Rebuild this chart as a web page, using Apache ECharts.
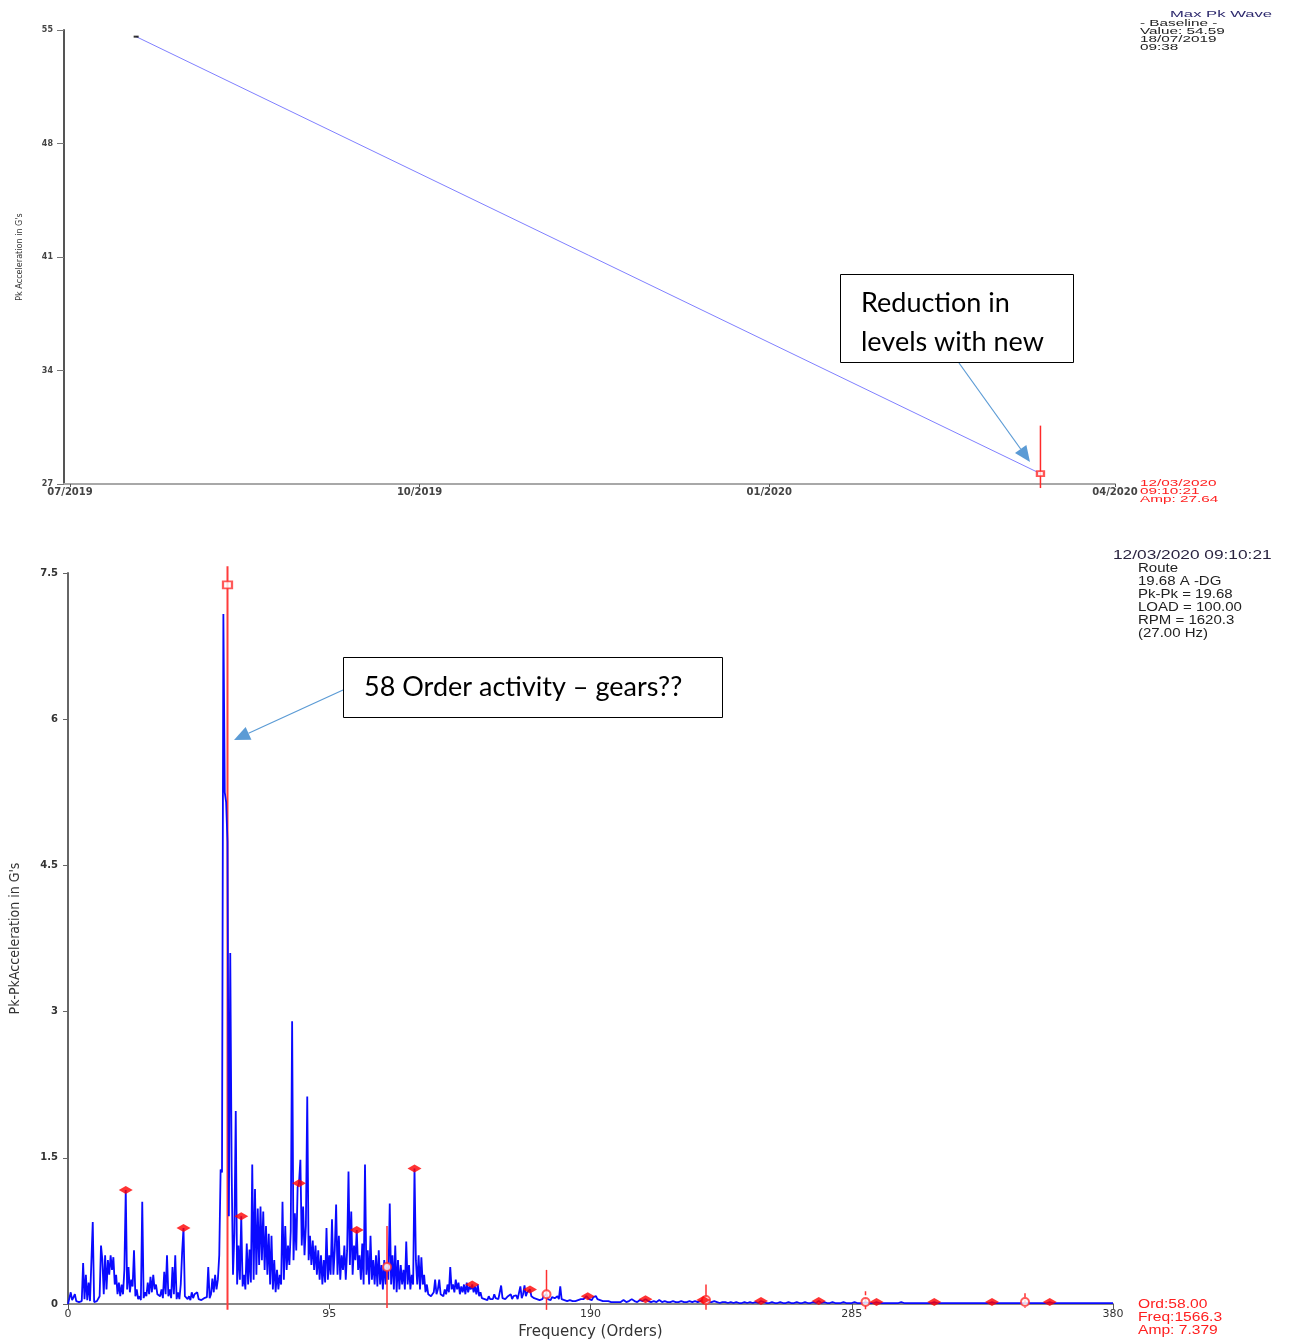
<!DOCTYPE html>
<html>
<head>
<meta charset="utf-8">
<script src="https://cdn.jsdelivr.net/npm/echarts@6/dist/echarts.min.js"></script>
<style>
html,body{margin:0;padding:0;background:#fff;}
#c{width:1290px;height:1340px;}
</style>
</head>
<body>
<div id="c"></div>
<script>
// ---------- Top chart: trend (Max Pk Wave) ----------
const trendDates = [new Date(2019, 6, 18, 9, 38).getTime(), new Date(2020, 2, 12, 9, 10, 21).getTime()];
const trendValues = [54.59, 27.64];
const trendTickDates = [new Date(2019, 6, 1).getTime(), new Date(2019, 9, 1).getTime(), new Date(2020, 0, 1).getTime(), new Date(2020, 3, 1).getTime()];
const trendYTicks = [27, 34, 41, 48, 55];
const trendCursor = [30.6, 26.75]; // top / bottom of cursor at last reading

// ---------- Bottom chart: spectrum ----------
// amplitudes every 0.5 order from 0 to 199.5
const ampsLow = [
0,0.02,0.12,0.04,0.03,0.1,0.03,0.05,0.02,0.04,0.03,0.42,0.05,0.3,0.04,0.22,0.03,0.05,0.84,0.02,
0.01,0.03,0.05,0.08,0.6,0.45,0.1,0.5,0.15,0.45,0.3,0.5,0.35,0.48,0.2,0.3,0.1,0.22,0.08,0.2,
0.1,0.35,1.17,0.15,0.38,0.12,0.25,0.18,0.55,0.08,0.15,0.05,0.08,0.04,1.05,0.06,0.12,0.08,0.22,0.1,
0.28,0.12,0.3,0.15,0.2,0.1,0.12,0.08,0.15,0.06,0.33,0.1,0.5,0.08,0.15,0.06,0.38,0.1,0.5,0.05,
0.12,0.05,0.2,0.53,0.78,0.08,0.1,0.05,0.08,0.04,0.12,0.06,0.1,0.08,0.12,0.05,0.06,0.04,0.05,0.06,
0.05,0.07,0.38,0.06,0.1,0.26,0.12,0.3,0.15,0.25,0.5,1.38,1.35,7.08,5.25,5.15,4.74,0.9,3.6,1.4,
0.3,0.72,1.98,0.2,0.6,0.25,0.9,0.18,0.3,0.15,0.62,0.2,0.56,0.22,1.43,0.25,1.18,0.3,0.98,0.4,
1.0,0.45,0.95,0.35,0.8,0.3,0.72,0.2,0.7,0.15,0.45,0.12,0.35,0.15,0.3,0.2,1.05,0.25,0.8,0.35,
0.6,0.4,0.75,2.9,0.45,0.93,0.55,1.2,1.24,1.48,0.6,1.0,0.5,0.8,2.13,0.45,0.7,0.4,0.65,0.35,
0.6,0.3,0.55,0.25,0.5,0.2,0.45,0.22,0.78,0.25,0.5,0.3,0.87,0.3,0.55,1.02,0.3,0.7,0.25,0.5,
0.35,0.6,0.25,0.55,1.36,0.4,0.95,0.3,0.6,0.45,0.76,0.35,0.5,0.25,0.62,0.2,1.43,0.3,0.55,0.2,
0.7,0.25,0.45,0.2,0.5,0.18,0.55,0.2,0.4,0.15,0.45,0.2,0.38,0.25,1.03,0.2,0.5,0.15,0.6,0.12,
0.45,0.15,0.4,0.2,0.35,0.15,0.64,0.2,0.4,0.15,0.3,0.2,1.39,0.45,0.2,0.5,0.15,0.48,0.2,0.3,
0.12,0.2,0.1,0.12,0.08,0.1,0.12,0.25,0.1,0.15,0.25,0.1,0.12,0.08,0.15,0.1,0.2,0.12,0.38,0.15,
0.2,0.12,0.25,0.15,0.22,0.1,0.18,0.12,0.2,0.1,0.22,0.12,0.18,0.15,0.2,0.12,0.18,0.1,0.2,0.08,
0.12,0.06,0.08,0.05,0.06,0.04,0.08,0.05,0.07,0.05,0.1,0.06,0.08,0.05,0.06,0.19,0.06,0.08,0.05,0.07,
0.08,0.06,0.1,0.05,0.08,0.06,0.09,0.05,0.07,0.18,0.06,0.1,0.19,0.08,0.12,0.1,0.15,0.08,0.1,0.06,
0.08,0.05,0.07,0.04,0.06,0.05,0.08,0.06,0.1,0.05,0.06,0.04,0.07,0.05,0.06,0.04,0.08,0.05,0.18,0.05,
0.06,0.04,0.05,0.03,0.05,0.04,0.06,0.03,0.04,0.03,0.05,0.04,0.06,0.05,0.07,0.05,0.06,0.08,0.08,0.05,
0.06,0.04,0.07,0.05,0.08,0.05,0.07,0.04,0.05,0.03,0.04,0.03,0.05,0.03,0.04,0.02,0.03,0.02,0.03,0.02
];
// amplitudes every 1 order from 200 to 380
const ampsHigh = [
0.03,0.02,0.04,0.02,0.03,0.05,0.03,0.02,0.04,0.03,
0.05,0.03,0.02,0.03,0.02,0.04,0.02,0.03,0.02,0.02,
0.03,0.02,0.02,0.03,0.02,0.02,0.03,0.02,0.03,0.02,
0.03,0.04,0.03,0.02,0.02,0.03,0.02,0.01,0.02,0.02,
0.01,0.02,0.01,0.02,0.01,0.01,0.02,0.01,0.02,0.01,
0.02,0.01,0.03,0.02,0.01,0.01,0.02,0.01,0.01,0.02,
0.01,0.01,0.02,0.01,0.01,0.02,0.01,0.01,0.02,0.01,
0.01,0.02,0.01,0.03,0.01,0.02,0.01,0.01,0.02,0.01,
0.01,0.01,0.02,0.01,0.01,0.01,0.02,0.01,0.01,0.01,
0.02,0.01,0.01,0.01,0.02,0.01,0.01,0.01,0.01,0.01,
0.01,0.01,0.01,0.02,0.01,0.01,0.01,0.01,0.01,0.01,
0.01,0.01,0.01,0.01,0.01,0.02,0.01,0.01,0.01,0.01,
0.01,0.01,0.01,0.01,0.01,0.01,0.01,0.01,0.01,0.01,
0.01,0.01,0.01,0.01,0.01,0.01,0.02,0.01,0.01,0.01,
0.01,0.01,0.01,0.01,0.01,0.01,0.01,0.01,0.01,0.01,
0.01,0.01,0.01,0.01,0.01,0.01,0.01,0.02,0.01,0.01,
0.01,0.01,0.01,0.01,0.01,0.01,0.01,0.01,0.01,0.01,
0.01,0.01,0.01,0.01,0.01,0.01,0.01,0.01,0.01,0.01,
0.01
];
const harm21Orders = [21,42,63,84,105,126,147,168,189,210,231,252,273,294,315,336,357];
const harm21Amps = [1.17,0.78,0.9,1.24,0.76,1.39,0.2,0.15,0.08,0.05,0.04,0.03,0.03,0.02,0.02,0.02,0.02];
const harm58Orders = [116,174,232,290,348];
const harm58Amps = [0.38,0.1,0.04,0.02,0.02];
const harm58Top = [0.8,0.35,0.2,0.13,0.11];
const harm58Bottom = [-0.04,-0.06,-0.06,-0.06,-0.04];
const harm58Dashed = [0,0,0,1,1];
const mainCursorOrder = 58;
const mainCursorAmp = 7.379;
const mainCursorTop = 7.57;
const mainCursorBottom = -0.06;

const spectrum = ampsLow.map((a, i) => [i * 0.5, a]).concat(ampsHigh.map((a, i) => [200 + i, a]));

function vline(color, width) {
  return function (params, api) {
    const p1 = api.coord([api.value(0), api.value(1)]);
    const p2 = api.coord([api.value(0), api.value(2)]);
    const dashed = api.value(3) === 1;
    return {
      type: 'line',
      shape: { x1: p1[0], y1: p1[1], x2: p2[0], y2: p2[1] },
      style: { stroke: color, lineWidth: width, lineDash: dashed ? [4, 3] : null }
    };
  };
}

function pad(n){ return (n < 10 ? '0' : '') + n; }

const chart = echarts.init(document.getElementById('c'), null, { renderer: 'canvas' });

const smallTxt = (text, x, y, color, size, sx, weight) => ({
  type: 'text', x: x, y: y, scaleX: sx, silent: true,
  style: { text: text, x: 0, y: 0, fill: color, font: (weight || 'normal') + ' ' + size + 'px "Liberation Sans", Arial, sans-serif', textVerticalAlign: 'middle', textAlign: 'left' }
});

function arrow(x1, y1, x2, y2) {
  const dx = x2 - x1, dy = y2 - y1, L = Math.sqrt(dx * dx + dy * dy);
  const ux = dx / L, uy = dy / L, hl = 16, hw = 7;
  const bx = x2 - ux * hl, by = y2 - uy * hl;
  return [
    { type: 'line', silent: true, shape: { x1: x1, y1: y1, x2: bx, y2: by }, style: { stroke: '#5b9bd5', lineWidth: 1.2 } },
    { type: 'polygon', silent: true, shape: { points: [[x2, y2], [bx - uy * hw, by + ux * hw], [bx + uy * hw, by - ux * hw]] }, style: { fill: '#5b9bd5' } }
  ];
}

const option = {
  animation: false,
  backgroundColor: '#fff',
  grid: [
    { left: 64, top: 30, width: 1051, height: 454, outerBoundsMode: 'none', containLabel: false },
    { left: 68, top: 573, width: 1045, height: 731, outerBoundsMode: 'none', containLabel: false }
  ],
  xAxis: [
    {
      type: 'value', gridIndex: 0,
      min: new Date(2019, 5, 29, 10).getTime(), max: trendTickDates[3],
      axisLine: { show: true, onZero: false, lineStyle: { color: '#a8a8a8', width: 2 } },
      axisTick: { show: true, length: 3, lineStyle: { color: '#555' }, customValues: trendTickDates },
      axisLabel: {
        customValues: trendTickDates, margin: 3, fontSize: 10, color: '#444',
        fontFamily: 'DejaVu Sans', fontWeight: 'bold',
        formatter: v => { const d = new Date(v); return pad(d.getMonth() + 1) + '/' + d.getFullYear(); }
      },
      splitLine: { show: false }
    },
    {
      type: 'value', gridIndex: 1, min: 0, max: 380, interval: 95,
      name: 'Frequency (Orders)', nameLocation: 'middle', nameGap: 21,
      nameTextStyle: { fontSize: 15, color: '#333', fontFamily: 'DejaVu Sans' },
      axisLine: { show: true, onZero: false, lineStyle: { color: '#888', width: 2 } },
      axisTick: { show: true, length: 5, lineStyle: { color: '#555' } },
      axisLabel: { fontSize: 11, color: '#333', margin: 5, fontFamily: 'DejaVu Sans' },
      splitLine: { show: false }
    }
  ],
  yAxis: [
    {
      type: 'value', gridIndex: 0, min: 27, max: 55,
      name: "Pk Acceleration in G's", nameLocation: 'middle', nameGap: 40, nameRotate: 90,
      nameTextStyle: { fontSize: 9, color: '#333', fontFamily: '"Liberation Sans Narrow", "DejaVu Sans Condensed", sans-serif' },
      axisLine: { show: true, lineStyle: { color: '#555', width: 2 } },
      axisTick: { show: true, length: 7, lineStyle: { color: '#777' }, customValues: trendYTicks },
      axisLabel: { customValues: trendYTicks, margin: 11, fontSize: 8, color: '#444', fontFamily: 'DejaVu Sans', fontWeight: 'bold' },
      splitLine: { show: false }
    },
    {
      type: 'value', gridIndex: 1, min: 0, max: 7.5, interval: 1.5,
      name: "Pk-PkAcceleration in G's", nameLocation: 'middle', nameGap: 46, nameRotate: 90,
      nameTextStyle: { fontSize: 14, color: '#333', fontFamily: '"Liberation Sans Narrow", "DejaVu Sans Condensed", sans-serif' },
      axisLine: { show: true, lineStyle: { color: '#666', width: 2 } },
      axisTick: { show: true, length: 5, lineStyle: { color: '#666' } },
      axisLabel: { margin: 10, fontSize: 10, color: '#333', fontFamily: 'DejaVu Sans', fontWeight: 'bold' },
      splitLine: { show: false }
    }
  ],
  series: [
    {
      name: 'Max Pk Wave', type: 'line', xAxisIndex: 0, yAxisIndex: 0,
      data: trendDates.map((d, i) => [d, trendValues[i]]),
      showSymbol: false, lineStyle: { color: '#8080ff', width: 1 }, z: 2
    },
    {
      type: 'scatter', xAxisIndex: 0, yAxisIndex: 0,
      data: [[trendDates[0], trendValues[0]]], symbol: 'rect', symbolSize: [5, 2],
      itemStyle: { color: '#000' }, z: 3
    },
    {
      type: 'custom', xAxisIndex: 0, yAxisIndex: 0,
      data: [[trendDates[1], trendCursor[0], trendCursor[1], 0]],
      renderItem: vline('#ff2a2a', 1.5), z: 3
    },
    {
      type: 'scatter', xAxisIndex: 0, yAxisIndex: 0,
      data: [[trendDates[1], trendValues[1]]], symbol: 'emptyRect', symbolSize: [7, 5],
      itemStyle: { color: '#ff2a2a', borderWidth: 1.2 }, z: 4
    },
    {
      type: 'custom', xAxisIndex: 1, yAxisIndex: 1,
      data: [[mainCursorOrder, mainCursorTop, mainCursorBottom, 0]],
      renderItem: vline('#ff3b3b', 2), z: 1
    },
    {
      name: 'Spectrum', type: 'line', xAxisIndex: 1, yAxisIndex: 1,
      data: spectrum, showSymbol: false, sampling: null,
      lineStyle: { color: '#0a0aff', width: 1.8 }, z: 2
    },
    {
      type: 'custom', xAxisIndex: 1, yAxisIndex: 1,
      data: harm58Orders.map((o, i) => [o, harm58Top[i], harm58Bottom[i], harm58Dashed[i]]),
      renderItem: vline('#ff3030', 1.5), z: 3
    },
    {
      type: 'scatter', xAxisIndex: 1, yAxisIndex: 1,
      data: harm58Orders.map((o, i) => [o, harm58Amps[i]]),
      symbol: 'emptyCircle', symbolSize: 8,
      itemStyle: { color: '#ff3030', borderColor: '#ff3030', borderWidth: 1.5 }, z: 4
    },
    {
      type: 'scatter', xAxisIndex: 1, yAxisIndex: 1,
      data: harm21Orders.map((o, i) => [o, harm21Amps[i]]),
      symbol: 'diamond', symbolSize: [14, 8],
      itemStyle: { color: '#ff0000' }, z: 5
    },
    {
      type: 'scatter', xAxisIndex: 1, yAxisIndex: 1,
      data: [[mainCursorOrder, mainCursorAmp]],
      symbol: 'emptyRect', symbolSize: [9, 7],
      itemStyle: { color: '#ff3030', borderColor: '#ff3030', borderWidth: 1.5 }, z: 5
    }
  ],
  graphic: [
    smallTxt('Max Pk Wave', 1170, 15, '#2e2a6e', 9, 1.85),
    smallTxt('- Baseline -', 1140, 23.5, '#222', 9, 1.7),
    smallTxt('Value: 54.59', 1140, 31.5, '#222', 9, 1.7),
    smallTxt('18/07/2019', 1140, 39.5, '#222', 9, 1.7),
    smallTxt('09:38', 1140, 47.5, '#222', 9, 1.7),
    smallTxt('12/03/2020', 1140, 484, '#ff2020', 9, 1.7),
    smallTxt('09:10:21', 1140, 492, '#ff2020', 9, 1.7),
    smallTxt('Amp: 27.64', 1140, 500, '#ff2020', 9, 1.7),
    smallTxt('12/03/2020 09:10:21', 1113, 555, '#2a2340', 13, 1.33),
    smallTxt('Route', 1138, 569, '#222', 12, 1.25),
    smallTxt('19.68 A -DG', 1138, 582, '#222', 12, 1.25),
    smallTxt('Pk-Pk = 19.68', 1138, 595, '#222', 12, 1.25),
    smallTxt('LOAD = 100.00', 1138, 608, '#222', 12, 1.25),
    smallTxt('RPM = 1620.3', 1138, 621, '#222', 12, 1.25),
    smallTxt('(27.00 Hz)', 1138, 634, '#222', 12, 1.25),
    smallTxt('Ord:58.00', 1138, 1305, '#ff2020', 12, 1.3),
    smallTxt('Freq:1566.3', 1138, 1318, '#ff2020', 12, 1.3),
    smallTxt('Amp: 7.379', 1138, 1331, '#ff2020', 12, 1.3),
    { type: 'rect', silent: true, shape: { x: 840.5, y: 274.5, width: 233, height: 88 }, style: { fill: '#fff', stroke: '#000', lineWidth: 1 }, z: 10 },
    { type: 'text', silent: true, x: 861, y: 303, z: 11, style: { text: 'Reduction in', fill: '#000', font: '27px Lato, "Open Sans", sans-serif', textVerticalAlign: 'middle' } },
    { type: 'text', silent: true, x: 861, y: 342, z: 11, style: { text: 'levels with new', fill: '#000', font: '27px Lato, "Open Sans", sans-serif', textVerticalAlign: 'middle' } },
    { type: 'rect', silent: true, shape: { x: 343.5, y: 657.5, width: 379, height: 60 }, style: { fill: '#fff', stroke: '#000', lineWidth: 1 }, z: 10 },
    { type: 'text', silent: true, x: 364, y: 687, z: 11, style: { text: '58 Order activity \u2013 gears??', fill: '#000', font: '27px Lato, "Open Sans", sans-serif', textVerticalAlign: 'middle' } },
    ...arrow(959, 363, 1030, 462),
    ...arrow(343, 690, 234, 740)
  ]
};
chart.setOption(option);
</script>
</body>
</html>
